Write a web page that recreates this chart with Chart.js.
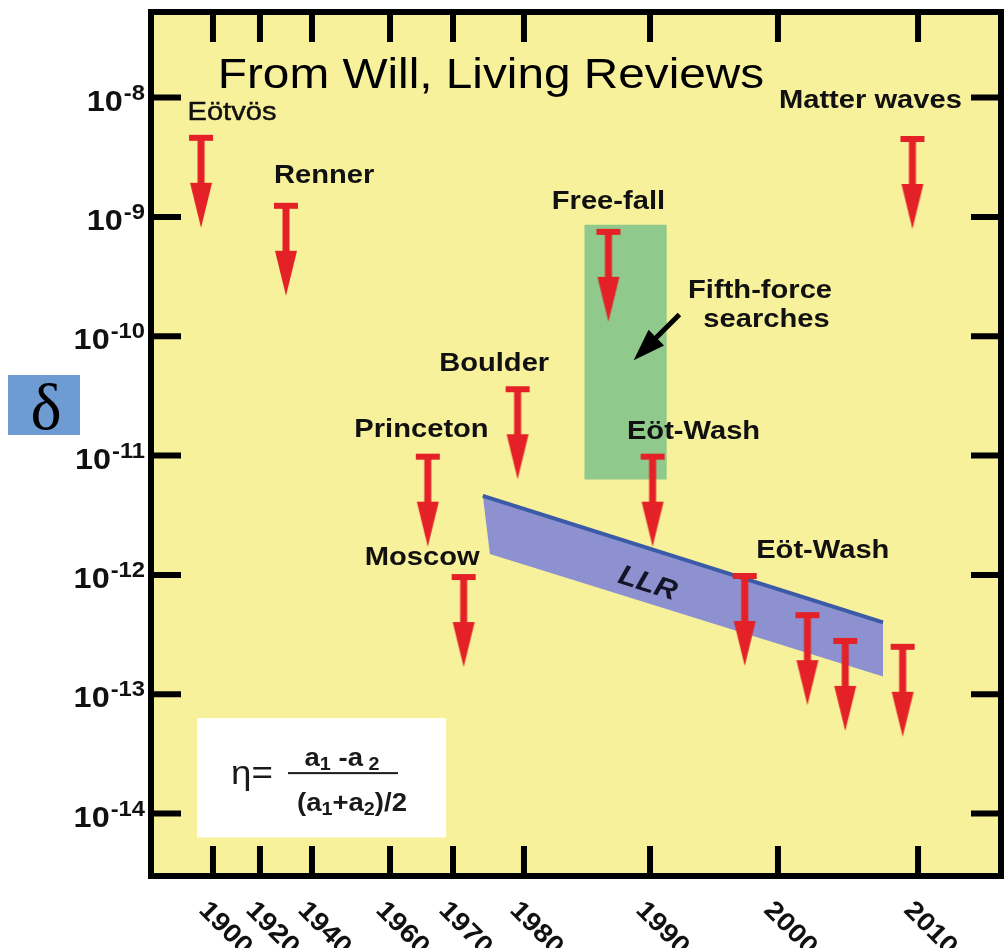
<!DOCTYPE html>
<html>
<head>
<meta charset="utf-8">
<script src="https://cdn.jsdelivr.net/npm/chart.js@4/dist/chart.umd.min.js"></script>
<style>
  html, body { margin: 0; padding: 0; background: #ffffff; }
  canvas { display: block; }
</style>
</head>
<body>
<canvas id="chart" width="1007" height="948"></canvas>
<script>
// ---- time axis: drawn piecewise-linear between these stops ----
const axisYears = [1874, 1900, 1920, 1940, 1960, 1970, 1980, 1990, 2000, 2010, 2016];
const axisStops = [0, 0.0729, 0.1282, 0.1894, 0.2812, 0.3553, 0.4388, 0.5871, 0.7376, 0.9024, 1];
const yearTicks = [1900, 1920, 1940, 1960, 1970, 1980, 1990, 2000, 2010];

// ---- vertical axis (log) ----
const decadeExponents = [-8, -9, -10, -11, -12, -13, -14];
const deltaMin = Math.pow(10, -14.483);
const deltaMax = Math.pow(10, -7.283);

// ---- upper limits on the violation parameter ----
const limitYears  = [1895, 1930, 1966, 1971.5, 1979.1, 1986.7, 1990.2, 1997.4, 2002.1, 2004.8, 2008.9, 2009.6];
const limitValues = [4.6e-9, 1.24e-9, 9.8e-12, 9.6e-13, 3.6e-11, 7.5e-10, 9.8e-12, 9.8e-13, 4.6e-13, 2.8e-13, 2.5e-13, 4.5e-9];

// ---- lunar laser ranging band (upper-left, upper-right, lower-right, lower-left) ----
const llrYears  = [1974.2, 2007.5, 2007.5, 1975.2];
const llrValues = [4.6e-12, 4.0e-13, 1.41e-13, 1.5e-12];

// ---- fifth-force search region ----
const fifthYears  = [1984.8, 1991.3];
const fifthValues = [8.6e-10, 6.3e-12];

// ---- experiment captions ----
const captionTexts  = ['Eötvös', 'Renner', 'Free-fall', 'Fifth-force', 'searches', 'Boulder', 'Princeton', 'Eöt-Wash', 'Moscow', 'Eöt-Wash', 'Matter waves'];
const captionYears  = [1908.1, 1943.1, 1986.7, 1998.6, 1999.1, 1975.8, 1965.0, 1993.4, 1965.1, 2003.2, 2006.6];
const captionValues = [7.5e-9, 2.2e-9, 1.33e-9, 2.42e-10, 1.36e-10, 5.85e-11, 1.65e-11, 1.58e-11, 1.39e-12, 1.58e-12, 9.3e-9];
const captionBold   = [false, true, true, true, true, true, true, true, true, true, true];

// ---- other annotations ----
const llrLabel = { text: 'LLR', year: 1989.8, value: 8.4e-13 };
const pointer = { fromYear: 1992.3, fromValue: 1.52e-10, toYear: 1988.7, toValue: 6.3e-11 };
const heading = { text: 'From Will, Living Reviews', year: 1975.35, value: 1.21e-8 };
const formulaBox = { years: [1893.3, 1968.9], values: [6.31e-14, 6.31e-15] };

const SANS = '"Liberation Sans", Arial, Helvetica, sans-serif';
const RED = '#e42127';

function yearToAxis(yr) {
  const n = axisYears.length;
  for (let i = 1; i < n; i++) {
    if (yr <= axisYears[i] || i === n - 1) {
      const t = (yr - axisYears[i - 1]) / (axisYears[i] - axisYears[i - 1]);
      return axisStops[i - 1] + t * (axisStops[i] - axisStops[i - 1]);
    }
  }
}

// upper-limit symbol: bar at the limit, arrow pointing down
function makeLimitArrow(color) {
  const w = 26, half = 94;
  const c = document.createElement('canvas');
  c.width = w; c.height = half * 2;
  const g = c.getContext('2d');
  g.fillStyle = color;
  const cx = w / 2, v = half;
  g.fillRect(cx - 12, v - 3, 24, 6);
  g.fillRect(cx - 3.5, v, 7, 48);
  g.beginPath();
  g.moveTo(cx - 11, v + 45);
  g.lineTo(cx + 11, v + 45);
  g.lineTo(cx, v + 90);
  g.closePath();
  g.fill();
  return c;
}

function pts(years, values, close) {
  const p = years.map((yr, i) => ({ x: yearToAxis(yr), y: values[i] }));
  if (close) p.push({ ...p[0] });
  return p;
}

function stretchText(ctx, text, x, y, font, align, baseline, sx, outline) {
  ctx.save();
  ctx.font = font;
  ctx.textAlign = align;
  ctx.textBaseline = baseline;
  ctx.translate(x, y);
  ctx.scale(sx, 1);
  ctx.fillText(text, 0, 0);
  if (outline) {
    ctx.strokeStyle = ctx.fillStyle;
    ctx.lineWidth = outline;
    ctx.strokeText(text, 0, 0);
  }
  ctx.restore();
}

const rectYears = [fifthYears[0], fifthYears[1], fifthYears[1], fifthYears[0]];
const rectValues = [fifthValues[0], fifthValues[0], fifthValues[1], fifthValues[1]];

const decor = {
  id: 'decor',
  beforeDraw(chart) {
    const { ctx, chartArea: a } = chart;
    ctx.save();
    ctx.fillStyle = '#f8f19b';
    ctx.fillRect(a.left, a.top, a.right - a.left, a.bottom - a.top);
    // formula panel
    const xs = chart.scales.x, ys = chart.scales.y;
    const x0 = xs.getPixelForValue(yearToAxis(formulaBox.years[0]));
    const x1 = xs.getPixelForValue(yearToAxis(formulaBox.years[1]));
    const y0 = ys.getPixelForValue(formulaBox.values[0]);
    const y1 = ys.getPixelForValue(formulaBox.values[1]);
    ctx.fillStyle = '#ffffff';
    ctx.fillRect(x0, y0, x1 - x0, y1 - y0);
    ctx.restore();
  },
  afterDatasetsDraw(chart) {
    const { ctx } = chart;
    const xs = chart.scales.x, ys = chart.scales.y;
    const X = yr => xs.getPixelForValue(yearToAxis(yr));
    const Y = v => ys.getPixelForValue(v);
    ctx.save();
    ctx.fillStyle = '#111111';

    // captions
    captionTexts.forEach((t, i) => {
      const font = (captionBold[i] ? 'bold ' : '') + '26px ' + SANS;
      stretchText(ctx, t, X(captionYears[i]), Y(captionValues[i]), font, 'center', 'middle', 1.12,
        captionBold[i] ? 0 : 0.45);
    });

    // LLR label along the band
    const p0x = X(llrYears[0]), p0y = Y(llrValues[0]);
    const p1x = X(llrYears[1]), p1y = Y(llrValues[1]);
    const ang = Math.atan2(p1y - p0y, p1x - p0x);
    ctx.save();
    ctx.translate(X(llrLabel.year), Y(llrLabel.value));
    ctx.rotate(ang);
    ctx.scale(1.1, 1);
    ctx.font = 'italic bold 28px ' + SANS;
    ctx.textAlign = 'center';
    ctx.textBaseline = 'middle';
    ctx.fillStyle = '#141428';
    ctx.fillText(llrLabel.text, 0, 0);
    ctx.restore();

    // pointer to the fifth-force region
    const tx = X(pointer.fromYear), ty = Y(pointer.fromValue);
    const hx = X(pointer.toYear), hy = Y(pointer.toValue);
    const len = Math.hypot(hx - tx, hy - ty);
    const dx = (hx - tx) / len, dy = (hy - ty) / len;
    const nx = -dy, ny = dx;
    ctx.strokeStyle = '#000000';
    ctx.lineWidth = 5;
    ctx.beginPath();
    ctx.moveTo(tx, ty);
    ctx.lineTo(hx - dx * 26, hy - dy * 26);
    ctx.stroke();
    ctx.fillStyle = '#000000';
    ctx.beginPath();
    ctx.moveTo(hx, hy);
    ctx.lineTo(hx - dx * 32 + nx * 11, hy - dy * 32 + ny * 11);
    ctx.lineTo(hx - dx * 32 - nx * 11, hy - dy * 32 - ny * 11);
    ctx.closePath();
    ctx.fill();

    // heading
    ctx.fillStyle = '#000000';
    stretchText(ctx, heading.text, X(heading.year), Y(heading.value), '43px ' + SANS, 'center', 'alphabetic', 1.11);

    // formula: eta = (a1 - a2) / ((a1 + a2)/2)
    const bx = X(formulaBox.years[0]), by = Y(formulaBox.values[0]);
    ctx.fillStyle = '#1a1a1a';
    stretchText(ctx, 'η=', bx + 34, by + 66, '34px ' + SANS, 'left', 'alphabetic', 1.08);
    ctx.fillRect(bx + 91, by + 54, 110, 2);
    const drawSubbed = (parts, cx, base) => {
      const big = 'bold 25px ' + SANS, small = 'bold 18px ' + SANS, sx = 1.1;
      let total = 0;
      parts.forEach(p => { ctx.font = p.sub ? small : big; total += ctx.measureText(p.t).width * sx; });
      let x = cx - total / 2;
      parts.forEach(p => {
        ctx.font = p.sub ? small : big;
        const w = ctx.measureText(p.t).width * sx;
        stretchText(ctx, p.t, x, base + (p.sub ? 4 : 0), p.sub ? small : big, 'left', 'alphabetic', sx);
        x += w;
      });
    };
    drawSubbed([{ t: 'a' }, { t: '1', sub: true }, { t: ' -a' }, { t: ' 2', sub: true }], bx + 145, by + 48);
    drawSubbed([{ t: '(a' }, { t: '1', sub: true }, { t: '+a' }, { t: '2', sub: true }, { t: ')/2' }], bx + 155, by + 93);
    ctx.restore();
  },
  afterDraw(chart) {
    const { ctx, chartArea: a } = chart;
    const xs = chart.scales.x, ys = chart.scales.y;
    ctx.save();
    ctx.strokeStyle = '#000000';
    ctx.lineWidth = 6;
    ctx.lineCap = 'butt';
    ctx.strokeRect(a.left, a.top, a.right - a.left, a.bottom - a.top);
    const tick = 30;
    ctx.beginPath();
    decadeExponents.forEach(e => {
      const y = ys.getPixelForValue(Math.pow(10, e));
      ctx.moveTo(a.left, y); ctx.lineTo(a.left + tick, y);
      ctx.moveTo(a.right, y); ctx.lineTo(a.right - tick, y);
    });
    yearTicks.forEach(yr => {
      const x = xs.getPixelForValue(yearToAxis(yr));
      ctx.moveTo(x, a.bottom); ctx.lineTo(x, a.bottom - tick);
      ctx.moveTo(x, a.top); ctx.lineTo(x, a.top + tick);
    });
    ctx.stroke();

    // decade labels 10^k
    ctx.fillStyle = '#111111';
    decadeExponents.forEach(e => {
      const y = ys.getPixelForValue(Math.pow(10, e));
      const baseFont = 'bold 30px ' + SANS, expFont = 'bold 22px ' + SANS, sx = 1.08;
      ctx.font = baseFont; const wb = ctx.measureText('10').width * sx;
      ctx.font = expFont; const we = ctx.measureText('-' + Math.abs(e)).width * sx;
      const right = a.left - 6;
      const start = right - wb - we - 1;
      stretchText(ctx, '10', start, y + 13, baseFont, 'left', 'alphabetic', sx);
      stretchText(ctx, '-' + Math.abs(e), start + wb + 1, y + 2, expFont, 'left', 'alphabetic', sx);
    });

    // year labels, slanted
    yearTicks.forEach(yr => {
      const x = xs.getPixelForValue(yearToAxis(yr));
      ctx.save();
      ctx.translate(x - 1, a.bottom + 21);
      ctx.rotate(Math.PI / 4);
      ctx.scale(1.1, 1);
      ctx.font = 'bold 26px ' + SANS;
      ctx.textAlign = 'left';
      ctx.textBaseline = 'top';
      ctx.fillText(String(yr), 0, 0);
      ctx.restore();
    });

    // axis symbol
    ctx.fillStyle = '#6e9bd2';
    ctx.fillRect(8, 375, 72, 60);
    ctx.fillStyle = '#000000';
    ctx.font = '66px "Liberation Serif", "DejaVu Serif", serif';
    ctx.textAlign = 'center';
    ctx.textBaseline = 'alphabetic';
    ctx.fillText('δ', 46, 429);
    ctx.restore();
  }
};

new Chart(document.getElementById('chart'), {
  type: 'scatter',
  data: {
    datasets: [
      {
        label: 'upper limits',
        data: pts(limitYears, limitValues, false),
        pointStyle: makeLimitArrow(RED),
        pointRadius: 4,
        showLine: false,
        order: 0
      },
      {
        label: 'LLR edge',
        data: pts(llrYears.slice(0, 2), llrValues.slice(0, 2), false),
        showLine: true,
        borderColor: '#3b5aa7',
        borderWidth: 4,
        pointRadius: 0,
        fill: false,
        order: 1
      },
      {
        label: 'LLR',
        data: pts(llrYears, llrValues, true),
        showLine: true,
        borderWidth: 0,
        backgroundColor: '#8d91cf',
        fill: 'shape',
        pointRadius: 0,
        order: 2
      },
      {
        label: 'Fifth-force searches',
        data: pts(rectYears, rectValues, true),
        showLine: true,
        borderWidth: 0,
        backgroundColor: '#8fca8c',
        fill: 'shape',
        pointRadius: 0,
        order: 3
      }
    ]
  },
  options: {
    responsive: false,
    animation: false,
    events: [],
    layout: { padding: { left: 151, top: 12, right: 6, bottom: 72 } },
    scales: {
      x: { type: 'linear', min: 0, max: 1, display: false },
      y: { type: 'logarithmic', min: deltaMin, max: deltaMax, display: false }
    },
    plugins: { legend: { display: false }, tooltip: { enabled: false } }
  },
  plugins: [decor]
});
</script>
</body>
</html>
